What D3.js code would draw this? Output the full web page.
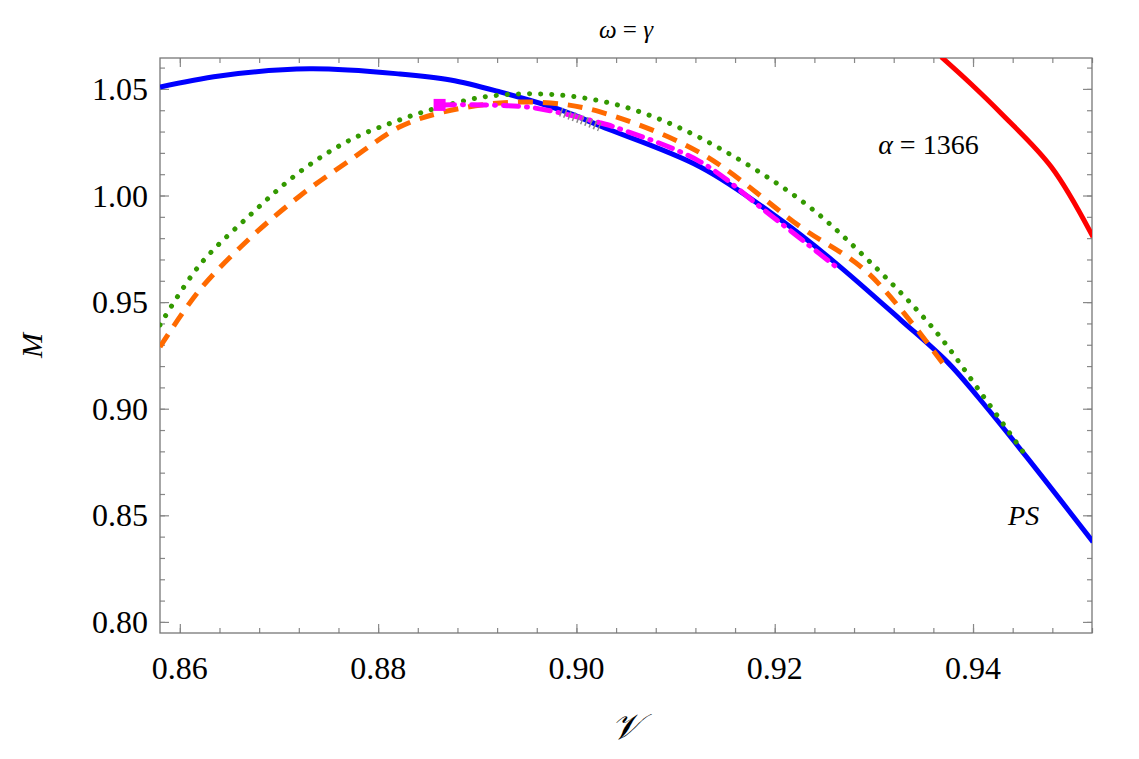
<!DOCTYPE html>
<html>
<head>
<meta charset="utf-8">
<script src="https://cdn.jsdelivr.net/npm/d3@7"></script>
<style>
  body { margin: 0; background: #fff; }
  text { font-family: "Liberation Serif", "DejaVu Serif", serif; }
</style>
</head>
<body>
<div id="chart"></div>
<script>
// Données
var xTicks = [0.86, 0.88, 0.90, 0.92, 0.94];
var yTicks = [0.80, 0.85, 0.90, 0.95, 1.00, 1.05];

var psV = [0.8580, 0.8640, 0.8731, 0.8822, 0.8873, 0.8923, 0.8984, 0.9024, 0.9125, 0.9206, 0.9260, 0.9327, 0.9375, 0.9405, 0.9454, 0.9521];
var psM = [1.0509, 1.0561, 1.0594, 1.0570, 1.0542, 1.0486, 1.0402, 1.0326, 1.0134, 0.9886, 0.9689, 0.9417, 0.9215, 0.9055, 0.8774, 0.8375];

var redV = [0.9368, 0.9398, 0.9428, 0.9479, 0.9521];
var redM = [1.0650, 1.0523, 1.0387, 1.0134, 0.9806];

var greenV = [0.8580, 0.8620, 0.8671, 0.8721, 0.8772, 0.8822, 0.8856, 0.8906, 0.8957, 0.9007, 0.9058, 0.9125, 0.9226, 0.9294, 0.9361, 0.9408, 0.9454];
var greenM = [0.9393, 0.9674, 0.9909, 1.0111, 1.0261, 1.0355, 1.0406, 1.0462, 1.0477, 1.0458, 1.0402, 1.0270, 0.9979, 0.9698, 0.9370, 0.9074, 0.8774];

var orangeV = [0.8580, 0.8620, 0.8671, 0.8721, 0.8772, 0.8822, 0.8866, 0.8923, 0.8974, 0.9024, 0.9125, 0.9226, 0.9294, 0.9373];
var orangeM = [0.9290, 0.9557, 0.9801, 0.9998, 1.0167, 1.0322, 1.0392, 1.0434, 1.0434, 1.0392, 1.0200, 0.9853, 0.9637, 0.9191];

var magentaV = [0.8862, 0.8906, 0.8957, 0.9024, 0.9041, 0.9125, 0.9193, 0.9262];
var magentaM = [1.0425, 1.0425, 1.0411, 1.0341, 1.0317, 1.0158, 0.9918, 0.9665];

var grayV = [0.8984, 0.9005, 0.9026];
var grayM = [1.0392, 1.0356, 1.0317];

// Graphique
var margin = {top: 58, right: 47, bottom: 126, left: 160},
    width = 1139 - margin.left - margin.right,
    height = 759 - margin.top - margin.bottom;

var svg = d3.select("#chart")
  .append("svg")
    .attr("width", 1139)
    .attr("height", 759)
  .append("g")
    .attr("transform", "translate(" + margin.left + "," + margin.top + ")");

var x = d3.scaleLinear().domain([0.8580, 0.9520]).range([0, width]);
var y = d3.scaleLinear().domain([0.7948, 1.0645]).range([height, 0]);

svg.append("clipPath").attr("id", "clip")
  .append("rect").attr("width", width).attr("height", height);

// Graduations (vers l'intérieur, sur les quatre côtés)
var xMinor = d3.range(0.860, 0.9521, 0.004);
var yMinor = d3.range(0.80, 1.0646, 0.01);
var fmt = d3.format(".2f");

function ticks(axis, len) {
  return function(g) {
    g.call(axis.tickSize(len).tickFormat("").tickPadding(0));
    g.select(".domain").remove();
    g.selectAll("line").attr("stroke", "#888").attr("stroke-width", 1.2);
  };
}
svg.append("g").attr("transform", "translate(0," + height + ")")
  .call(ticks(d3.axisTop(x).tickValues(xMinor), 5));
svg.append("g").attr("transform", "translate(0," + height + ")")
  .call(ticks(d3.axisTop(x).tickValues(xTicks), 9));
svg.append("g").call(ticks(d3.axisBottom(x).tickValues(xMinor), 5));
svg.append("g").call(ticks(d3.axisBottom(x).tickValues(xTicks), 9));
svg.append("g").call(ticks(d3.axisRight(y).tickValues(yMinor), 5));
svg.append("g").call(ticks(d3.axisRight(y).tickValues(yTicks), 9));
svg.append("g").attr("transform", "translate(" + width + ",0)")
  .call(ticks(d3.axisLeft(y).tickValues(yMinor), 5));
svg.append("g").attr("transform", "translate(" + width + ",0)")
  .call(ticks(d3.axisLeft(y).tickValues(yTicks), 9));

// Étiquettes des axes
svg.selectAll(".xl").data(xTicks).enter().append("text")
  .attr("x", function(d) { return x(d); })
  .attr("y", height + 46)
  .attr("text-anchor", "middle")
  .style("font-size", "32px")
  .text(fmt);
svg.selectAll(".yl").data(yTicks).enter().append("text")
  .attr("x", -12)
  .attr("y", function(d) { return y(d) + 11; })
  .attr("text-anchor", "end")
  .style("font-size", "32px")
  .text(fmt);

svg.append("rect")
  .attr("width", width).attr("height", height)
  .attr("fill", "none").attr("stroke", "#777").attr("stroke-width", 1.3);

// Courbes
function zip(vs, ms) { return vs.map(function(v, i) { return [v, ms[i]]; }); }
var line = d3.line().curve(d3.curveCatmullRom)
  .x(function(d) { return x(d[0]); })
  .y(function(d) { return y(d[1]); });

var plot = svg.append("g").attr("clip-path", "url(#clip)");

function draw(data, color, dash, cap, w) {
  plot.append("path")
    .datum(data)
    .attr("d", line)
    .attr("fill", "none")
    .attr("stroke", color)
    .attr("stroke-width", w || 5)
    .attr("stroke-linecap", cap || "butt")
    .attr("stroke-dasharray", dash);
}

draw(zip(psV, psM), "#0000ff", null);
draw(zip(redV, redM), "#ff0000", null);
draw(zip(orangeV, orangeM), "#ff6a00", "15,10");
draw(zip(greenV, greenM), "#339900", "0.1,11", "round");
draw(zip(magentaV, magentaM), "#ff00ff", "15,8,1,8", "round");
draw(zip(grayV, grayM), "#888888", "1.5,3", "butt", 9);

plot.append("rect")
  .attr("x", x(magentaV[0]) - 6)
  .attr("y", y(magentaM[0]) - 6)
  .attr("width", 12).attr("height", 12)
  .attr("fill", "#ff00ff");

// Annotations
svg.append("text")
  .attr("x", x(0.9355)).attr("y", y(1.0195))
  .attr("text-anchor", "middle")
  .style("font-size", "28px")
  .html('<tspan font-style="italic">α</tspan> = 1366');
svg.append("text")
  .attr("x", x(0.9451)).attr("y", y(0.8455))
  .attr("text-anchor", "middle")
  .style("font-size", "28px")
  .style("font-style", "italic")
  .text("PS");

// Titres
svg.append("text")
  .attr("x", width / 2).attr("y", -20)
  .attr("text-anchor", "middle")
  .style("font-size", "25px")
  .html('<tspan font-style="italic">ω</tspan> = <tspan font-style="italic">γ</tspan>');
svg.append("text")
  .attr("x", width / 2).attr("y", height + 106)
  .attr("text-anchor", "middle")
  .style("font-size", "36px")
  .style("font-style", "italic")
  .text("𝒱");
svg.append("text")
  .attr("transform", "rotate(-90)")
  .attr("x", -height / 2).attr("y", -118)
  .attr("text-anchor", "middle")
  .style("font-size", "30px")
  .style("font-style", "italic")
  .text("M");
</script>
</body>
</html>
